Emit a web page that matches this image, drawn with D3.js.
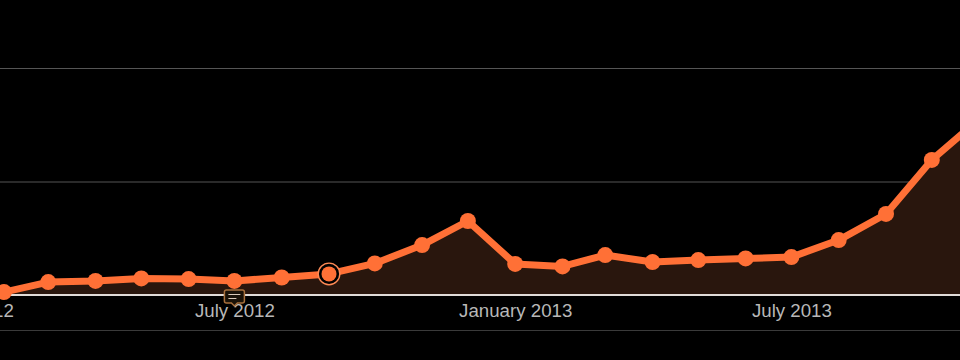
<!DOCTYPE html>
<html>
<head>
<meta charset="utf-8">
<script src="https://cdn.jsdelivr.net/npm/d3@7"></script>
<style>
html, body { margin: 0; padding: 0; background: #000; overflow: hidden; }
svg { display: block; }
.x-axis text { fill: #b8b8b8; font-family: "Liberation Sans", Arial, sans-serif; font-size: 18.7px; }
</style>
</head>
<body>
<div id="chart-area"></div>
<script>
var months = ['2012-02', '2012-03', '2012-04', '2012-05', '2012-06', '2012-07', '2012-08', '2012-09',
    '2012-10', '2012-11', '2012-12', '2013-01', '2013-02', '2013-03', '2013-04', '2013-05',
    '2013-06', '2013-07', '2013-08', '2013-09', '2013-10', '2013-11'];
var values = [13, 57, 62, 73, 70, 62, 77, 93, 139, 220, 326, 137, 126, 176, 145, 154, 161, 167, 242, 357, 595, 775];
var xTicks = ['2012-01', '2012-07', '2013-01', '2013-07'];
var yTicks = [500, 1000];
var highlightMonth = '2012-09';
var noteMonth = '2012-07';

var width = 960;
var height = 360;
var baseline = 295;

var parseMonth = d3.utcParse('%Y-%m');
var data = months.map((m, i) => ({ date: parseMonth(m), value: values[i] }));

var svg = d3.select('#chart-area')
    .append('svg')
    .attr('width', width)
    .attr('height', height);

// Jan 2012 label is cut off by the left edge, same as the reference
var x = d3.scaleUtc()
    .domain([parseMonth('2012-07'), parseMonth('2013-07')])
    .range([234.4, 791.4]);

var y = d3.scaleLinear()
    .domain([0, 1000])
    .range([baseline, 68]);

svg.append('g')
    .selectAll('line')
    .data(yTicks)
    .enter()
    .append('line')
    .attr('x1', 0)
    .attr('x2', width)
    .attr('y1', d => y(d) + 0.5)
    .attr('y2', d => y(d) + 0.5)
    .attr('stroke', '#555')
    .attr('stroke-width', 1);

// bottom rule under the labels
svg.append('line')
    .attr('x1', 0)
    .attr('x2', width)
    .attr('y1', 330.5)
    .attr('y2', 330.5)
    .attr('stroke', '#3a3a3a');

var area = d3.area()
    .x(d => x(d.date))
    .y0(y(0))
    .y1(d => y(d.value));

var line = d3.line()
    .x(d => x(d.date))
    .y(d => y(d.value));

svg.append('path')
    .datum(data)
    .attr('d', area)
    .attr('fill', '#29160d');

svg.append('line')
    .attr('x1', 0)
    .attr('x2', width)
    .attr('y1', y(0))
    .attr('y2', y(0))
    .attr('stroke', '#e0dcd8')
    .attr('stroke-width', 2);

var xAxisCall = d3.axisBottom(x)
    .tickValues(xTicks.map(parseMonth))
    .tickSize(0)
    .tickPadding(9)
    .tickFormat(d3.utcFormat('%B %Y'));

svg.append('g')
    .attr('class', 'x-axis')
    .attr('transform', `translate(0, ${baseline})`)
    .call(xAxisCall)
    .call(g => g.select('.domain').remove());

svg.append('path')
    .datum(data)
    .attr('d', line)
    .attr('fill', 'none')
    .attr('stroke', '#ff7036')
    .attr('stroke-width', 7)
    .attr('stroke-linejoin', 'round');

svg.selectAll('circle.dot')
    .data(data.filter(d => d3.utcFormat('%Y-%m')(d.date) !== highlightMonth))
    .enter()
    .append('circle')
    .attr('class', 'dot')
    .attr('cx', d => x(d.date))
    .attr('cy', d => y(d.value))
    .attr('r', 8)
    .attr('fill', '#ff7036');

var hi = data.find(d => d3.utcFormat('%Y-%m')(d.date) === highlightMonth);
svg.append('circle')
    .attr('cx', x(hi.date))
    .attr('cy', y(hi.value))
    .attr('r', 10.8)
    .attr('fill', '#000')
    .attr('stroke', '#ff8a55')
    .attr('stroke-width', 1.4);
svg.append('circle')
    .attr('cx', x(hi.date))
    .attr('cy', y(hi.value))
    .attr('r', 7.5)
    .attr('fill', '#ff7036');

// little comment bubble on the axis
var note = svg.append('g')
    .attr('transform', `translate(${x(parseMonth(noteMonth))}, ${baseline + 1})`);
note.append('path')
    .attr('d', 'M-8,-6 H8 Q10,-6 10,-4 V5 Q10,7 8,7 H3 L0,10 L-3,7 H-8 Q-10,7 -10,5 V-4 Q-10,-6 -8,-6 Z')
    .attr('fill', '#1a1208')
    .attr('stroke', '#a8703c')
    .attr('stroke-width', 1.5);
note.append('path')
    .attr('d', 'M-6,-1.5 H6 M-6,2.5 H2')
    .attr('stroke', '#d8c8b8')
    .attr('stroke-width', 1.2);
</script>
</body>
</html>
